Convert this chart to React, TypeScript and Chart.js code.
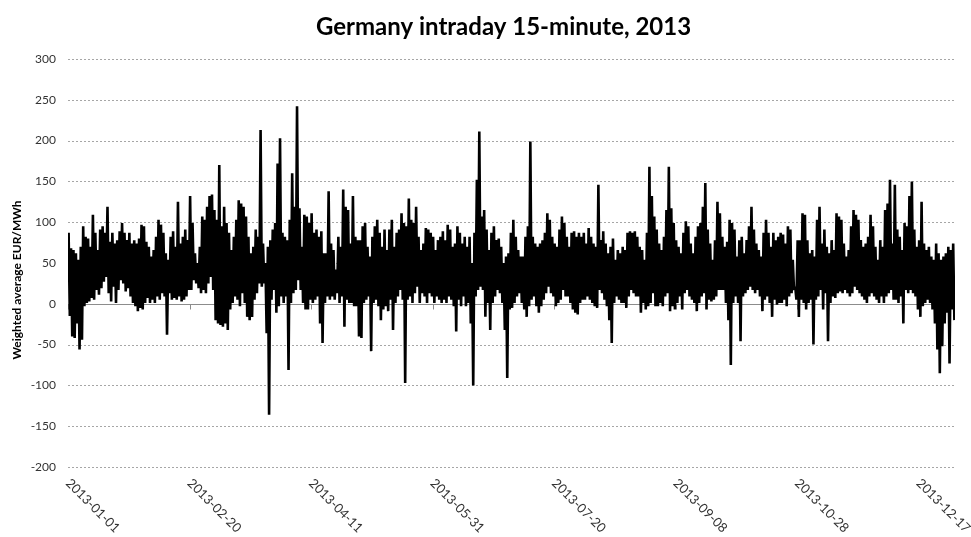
import { useEffect, useRef } from 'react';
import { Chart, registerables } from 'chart.js';

Chart.register(...registerables);

// Axis labels: one every 50 days, starting on 1 January 2013.
const dateLabels = [
  '2013-01-01', '2013-02-20', '2013-04-11', '2013-05-31',
  '2013-07-20', '2013-09-08', '2013-10-28', '2013-12-17',
];
const labelStepDays = 50;
const daysInYear = 365;

const chartTitle = 'Germany intraday 15-minute, 2013';
const yAxisTitle = 'Weighted average EUR/MWh';
const yMin = -200;
const yMax = 300;
const yStep = 50;

// Daily highest 15-minute weighted average price (EUR/MWh), day 0 = 2013-01-01.
const dailyHigh = [
  87, 68, 66, 62, 54, 70, 95, 82, 80, 70,
  109, 87, 66, 91, 95, 87, 119, 76, 87, 74,
  78, 89, 99, 87, 78, 87, 74, 78, 74, 80,
  97, 95, 76, 70, 58, 66, 82, 103, 97, 87,
  62, 54, 82, 89, 70, 125, 74, 82, 91, 78,
  132, 99, 62, 50, 70, 107, 103, 119, 132, 134,
  115, 103, 170, 95, 119, 99, 87, 66, 82, 103,
  127, 123, 119, 107, 82, 62, 70, 91, 82, 213,
  74, 50, 70, 78, 91, 99, 172, 203, 87, 82,
  78, 103, 160, 119, 242, 117, 70, 109, 107, 99,
  111, 87, 91, 82, 89, 62, 62, 138, 74, 66,
  42, 82, 70, 140, 119, 115, 74, 132, 82, 78,
  78, 95, 99, 70, 58, 82, 95, 103, 87, 70,
  91, 66, 91, 103, 70, 87, 91, 111, 99, 95,
  129, 103, 99, 119, 82, 66, 74, 93, 91, 87,
  82, 66, 78, 82, 89, 78, 97, 91, 70, 74,
  95, 87, 74, 82, 70, 82, 50, 87, 152, 211,
  107, 115, 91, 66, 87, 95, 78, 80, 70, 50,
  58, 62, 87, 103, 82, 66, 58, 58, 82, 95,
  199, 82, 74, 70, 74, 78, 87, 111, 103, 82,
  74, 70, 91, 107, 99, 82, 70, 87, 89, 82,
  87, 82, 87, 74, 93, 82, 74, 70, 146, 78,
  89, 74, 62, 70, 80, 54, 66, 62, 70, 66,
  87, 89, 87, 89, 82, 70, 66, 54, 87, 168,
  132, 107, 91, 74, 66, 82, 115, 168, 117, 99,
  78, 70, 62, 87, 101, 95, 74, 62, 82, 95,
  99, 119, 148, 91, 74, 54, 78, 125, 111, 82,
  70, 76, 103, 99, 91, 58, 78, 82, 62, 78,
  95, 119, 91, 74, 66, 58, 87, 103, 87, 70,
  87, 78, 82, 87, 85, 74, 95, 91, 54, 21,
  78, 78, 111, 109, 78, 62, 66, 58, 103, 119,
  74, 91, 70, 62, 78, 66, 111, 107, 103, 74,
  58, 66, 95, 115, 109, 103, 78, 70, 74, 82,
  109, 95, 70, 54, 78, 70, 115, 123, 152, 74,
  146, 91, 82, 66, 99, 95, 132, 150, 91, 70,
  78, 125, 74, 66, 70, 58, 54, 74, 62, 54,
  58, 62, 70, 66, 74,
];

// Daily lowest 15-minute weighted average price (EUR/MWh).
const dailyLow = [
  -15, -40, -42, -24, -56, -44, -3, 1, 3, 7,
  5, 17, 11, 19, 27, 33, 13, 3, 21, 1,
  17, 29, 25, 15, 19, 9, 1, -3, -9, -5,
  -7, 1, 7, 1, 5, 1, 9, 5, 13, 9,
  -38, 13, 5, 7, 5, 9, 3, 5, 9, 17,
  17, 29, 25, 19, 13, 17, 13, 25, 33, 17,
  -20, -24, -26, -28, -24, -32, -7, 1, 9, 5,
  -3, 13, 1, -16, -20, -16, 5, 13, 25, 21,
  25, -36, -136, 5, 17, -11, -3, 9, 1, 9,
  -81, 1, 13, 17, 29, 17, 1, -7, -7, 5,
  1, 5, 9, -24, -48, 1, 9, 5, 9, 5,
  13, 1, 9, -28, 5, 1, 1, -3, -3, -40,
  -42, 1, 5, 9, -58, 1, 5, -3, -20, -7,
  -3, -9, 5, -32, 1, 9, 17, 5, -97, 5,
  9, 1, 13, 21, 1, 13, 9, 1, 13, 9,
  1, 9, 5, 1, 5, 1, 9, 5, -3, -34,
  5, -3, 9, -3, 1, -24, -100, 9, 17, 21,
  17, -16, 1, -32, 1, 9, 17, 13, 1, -32,
  -91, -7, -5, 1, 9, 13, 1, -7, -16, -3,
  5, 9, -3, -11, -3, 5, 13, 21, 13, 9,
  -3, 1, 5, 17, 9, 9, 1, -7, -11, -13,
  1, 5, 5, 9, 5, 1, -3, -5, 17, 13,
  5, -3, -20, -48, 1, 9, 5, 1, 1, -5,
  9, 17, 13, 9, 9, -11, 1, -7, -3, 1,
  13, -3, -3, 1, -3, 9, 13, -9, -3, -7,
  1, 9, -7, 13, 17, 9, 5, 1, -9, 1,
  9, 13, -7, 5, 3, 5, 9, 17, 17, 17,
  1, -20, -75, 1, 9, 1, -46, 9, 13, 17,
  21, 17, 13, 17, 9, -9, 5, 9, 1, -16,
  5, -1, 1, 1, 5, -3, 9, 13, 17, 5,
  -16, 5, 1, -7, 1, 5, -50, 5, 9, 17,
  -7, 13, -46, 1, 9, 7, 13, 15, 13, 17,
  13, 9, 13, 21, 17, 13, 9, 5, 1, 9,
  13, 9, 5, 1, 9, 1, 9, 13, 17, 5,
  5, 1, 9, -24, 17, 13, 17, 13, 9, -7,
  -16, -3, 1, 5, 1, -7, -24, -56, -85, -52,
  -24, -11, -73, -7, -20,
];

const FONT = 'Lato, "Open Sans", "DejaVu Sans", sans-serif';

export default function App() {
  const canvasRef = useRef<HTMLCanvasElement>(null);

  useEffect(() => {
    document.body.style.margin = '0';
    const canvas = canvasRef.current;
    if (!canvas) return;

    // Each day contributes its high and its low, so the trace swings
    // between the two the way the quarter-hour prices do.
    const points: { x: number; y: number }[] = [];
    dailyHigh.forEach((high, i) => {
      points.push({ x: i + 0.25, y: high });
      points.push({ x: i + 0.75, y: dailyLow[i] });
    });

    const decorations = {
      id: 'decorations',
      beforeDatasetsDraw(chart: any) {
        const { ctx, chartArea: area, scales } = chart;
        const x = scales.x;
        const y = scales.y;
        ctx.save();
        // dotted horizontal grid
        ctx.lineWidth = 1;
        ctx.strokeStyle = '#a6a6a6';
        ctx.setLineDash([2, 2]);
        for (let v = yMin; v <= yMax; v += yStep) {
          if (v === 0) continue;
          const py = Math.round(y.getPixelForValue(v)) + 0.5;
          ctx.beginPath();
          ctx.moveTo(area.left, py);
          ctx.lineTo(area.right, py);
          ctx.stroke();
        }
        // category axis crossing at zero, with its tick marks
        ctx.setLineDash([]);
        ctx.strokeStyle = '#8c8c8c';
        const py0 = Math.round(y.getPixelForValue(0)) + 0.5;
        ctx.beginPath();
        ctx.moveTo(area.left, py0);
        ctx.lineTo(area.right, py0);
        ctx.stroke();
        for (let d = 0; d <= daysInYear; d += labelStepDays) {
          const px = Math.round(x.getPixelForValue(d)) + 0.5;
          ctx.beginPath();
          ctx.moveTo(px, py0);
          ctx.lineTo(px, py0 + 5);
          ctx.stroke();
        }
        ctx.restore();
      },
      afterDraw(chart: any) {
        const { ctx, chartArea: area, scales } = chart;
        const x = scales.x;
        ctx.save();
        // title
        ctx.fillStyle = '#000';
        ctx.font = `bold 24px ${FONT}`;
        ctx.textAlign = 'center';
        ctx.textBaseline = 'middle';
        ctx.fillText(chartTitle, (area.left + area.right) / 2 - 8, 27);
        // vertical axis title
        ctx.save();
        ctx.translate(17, (area.top + area.bottom) / 2 + 17);
        ctx.rotate(-Math.PI / 2);
        ctx.font = `bold 12px ${FONT}`;
        ctx.fillText(yAxisTitle, 0, 0);
        ctx.restore();
        // slanted date labels under the plot
        ctx.font = `13px ${FONT}`;
        ctx.fillStyle = '#333';
        ctx.textAlign = 'left';
        ctx.textBaseline = 'middle';
        dateLabels.forEach((label, i) => {
          const px = x.getPixelForValue(i * labelStepDays);
          ctx.save();
          ctx.translate(px, area.bottom + 14);
          ctx.rotate(Math.PI / 4);
          ctx.fillText(label, 0, 0);
          ctx.restore();
        });
        ctx.restore();
      },
    };

    const chart = new Chart(canvas, {
      type: 'line',
      data: {
        datasets: [
          {
            data: points,
            borderColor: '#000',
            borderWidth: 2.6,
            borderJoinStyle: 'bevel',
            pointRadius: 0,
            tension: 0,
            fill: false,
          },
        ],
      },
      options: {
        responsive: false,
        animation: false,
        devicePixelRatio: 1,
        layout: { padding: { top: 59, right: 16, bottom: 70, left: 0 } },
        plugins: {
          legend: { display: false },
          title: { display: false },
          tooltip: { enabled: false },
        },
        scales: {
          x: {
            type: 'linear',
            min: 0,
            max: daysInYear,
            display: false,
          },
          y: {
            min: yMin,
            max: yMax,
            afterFit: (scale: any) => {
              scale.width = 68;
            },
            grid: { display: false, drawTicks: false },
            border: { display: false },
            ticks: {
              stepSize: yStep,
              padding: 12,
              color: '#333',
              font: { family: FONT, size: 12 },
            },
          },
        },
      },
      plugins: [decorations],
    });

    return () => chart.destroy();
  }, []);

  return <canvas ref={canvasRef} width={971} height={537} style={{ display: 'block' }} />;
}
